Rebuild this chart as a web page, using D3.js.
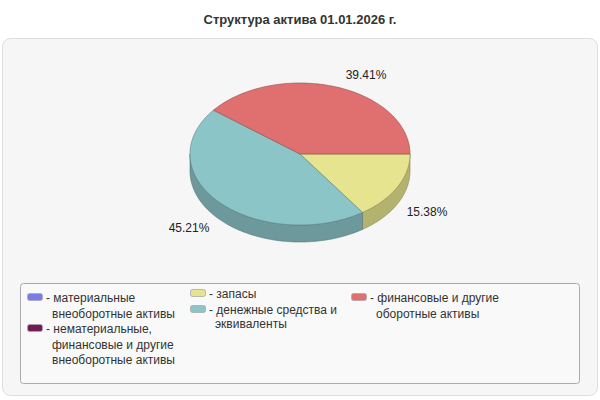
<!DOCTYPE html>
<html><head><meta charset="utf-8">
<script src="https://cdn.jsdelivr.net/npm/d3@7"></script>
<style>body{margin:0;background:#fff}text{font-family:"Liberation Sans",Arial,sans-serif}</style>
</head><body>
<svg id="chart" width="600" height="400"></svg>
<script>
var labels = ["материальные внеоборотные активы", "нематериальные, финансовые и другие внеоборотные активы", "запасы", "денежные средства и эквиваленты", "финансовые и другие оборотные активы"],
    values = [0, 0, 15.38, 45.21, 39.41],
    colors = ["#7b7be8", "#751a52", "#e6e48e", "#8cc5c8", "#e07070"],
    legendLines = [["материальные", "внеоборотные активы"], ["нематериальные,", "финансовые и другие", "внеоборотные активы"], ["запасы"], ["денежные средства и", "эквиваленты"], ["финансовые и другие", "оборотные активы"]];

var svg = d3.select("#chart");
svg.append("text").attr("x", 300).attr("y", 24).attr("text-anchor", "middle")
  .style("font-size", "13px").style("font-weight", "bold").attr("fill", "#333")
  .text("Структура актива 01.01.2026 г.");
svg.append("rect").attr("x", 2.5).attr("y", 38.5).attr("width", 595).attr("height", 357).attr("rx", 8)
  .attr("fill", "#f6f6f6").attr("stroke", "#ddd");

var cx = 300, cy = 154, rx = 110, ry = 71, depth = 17;
var total = d3.sum(values);
var ang = d3.scaleLinear().domain([0, total]).range([0, 2 * Math.PI]);
function pt(a, dy) { return [cx + rx * Math.cos(a), cy + ry * Math.sin(a) + (dy || 0)]; }
function arcPts(a0, a1, dy) {
  var n = Math.max(2, Math.ceil((a1 - a0) / 0.02));
  return d3.range(n + 1).map(function(i) { return pt(a0 + (a1 - a0) * i / n, dy); });
}
var slices = [], acc = 0;
values.forEach(function(v, i) {
  if (v > 0) slices.push({i: i, a0: ang(acc), a1: ang(acc + v), v: v});
  acc += v;
});
var line = d3.line();
// side walls (front half only)
slices.forEach(function(s) {
  var a0 = Math.max(s.a0, 0), a1 = Math.min(s.a1, Math.PI);
  if (a1 <= a0) return;
  var top = arcPts(a0, a1, 0), bot = arcPts(a0, a1, depth).reverse();
  svg.append("path").attr("d", line(top.concat(bot)) + "Z")
    .attr("fill", d3.color(colors[s.i]).darker(0.7)).attr("stroke", d3.color(colors[s.i]).darker(1.4)).attr("stroke-width", 0.6);
});
// tops
slices.forEach(function(s) {
  var p = [[cx, cy]].concat(arcPts(s.a0, s.a1, 0));
  svg.append("path").attr("d", line(p) + "Z")
    .attr("fill", colors[s.i]).attr("stroke", d3.color(colors[s.i]).darker(1.2)).attr("stroke-width", 0.6);
});
// value labels, offsets as in the original layout
var labelPos = {2: [427, 216], 3: [189, 232], 4: [366, 79]};
slices.forEach(function(s) {
  var p = labelPos[s.i];
  svg.append("text").attr("x", p[0]).attr("y", p[1]).attr("text-anchor", "middle")
    .style("font-size", "12px").attr("fill", "#222").text(s.v.toFixed(2) + "%");
});

// legend
svg.append("rect").attr("x", 20.5).attr("y", 283.5).attr("width", 559).attr("height", 100).attr("rx", 3)
  .attr("fill", "#f9f9f9").attr("stroke", "#aaa");
var legPos = [[27, 302, 15.5], [27, 333, 15.5], [190, 298, 15.5], [190, 314, 13.5], [351, 302, 16]];
legendLines.forEach(function(ls, i) {
  var x = legPos[i][0], y = legPos[i][1], lh = legPos[i][2];
  svg.append("rect").attr("x", x + 0.5).attr("y", y - 8.5).attr("width", 15).attr("height", 7).attr("rx", 2)
    .attr("fill", colors[i]).attr("stroke", "#aaa").attr("stroke-width", 0.8);
  var t = svg.append("text").attr("y", y).style("font-size", "12px").attr("fill", "#333");
  ls.forEach(function(l, j) {
    t.append("tspan").attr("x", j === 0 ? x + 19 : x + 25).attr("y", y + j * lh).text(j === 0 ? "- " + l : l);
  });
});
</script>
</body></html>
